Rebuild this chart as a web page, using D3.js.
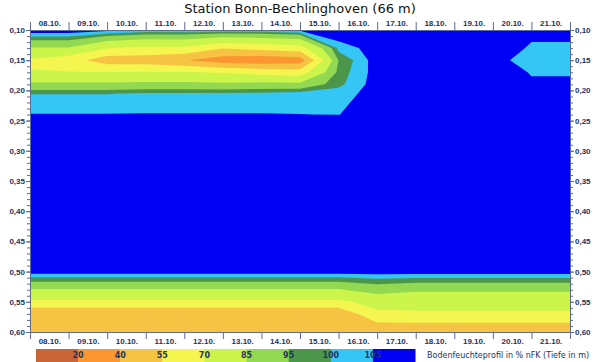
<!DOCTYPE html>
<html lang="de">
<head>
<meta charset="UTF-8">
<title>Bodenfeuchteprofil</title>
<script src="https://cdn.jsdelivr.net/npm/d3@7"></script>
<style>
    body { margin: 0; background: #fff; }
    svg { display: block; font-family: "DejaVu Sans", sans-serif; }
    .axis text { fill: #25325f; font-weight: bold; font-size: 8px; }
    .axis path, .axis line { stroke: #5d6a94; }
</style>
</head>
<body>
<script>

    // Tage (Beschriftung) und Tiefen der Stuetzstellen in m
    var dayLabels = ["08.10.", "09.10.", "10.10.", "11.10.", "12.10.", "13.10.", "14.10.",
                     "15.10.", "16.10.", "17.10.", "18.10.", "19.10.", "20.10.", "21.10."];
    var depths = [0.10, 0.13, 0.15, 0.17, 0.19, 0.205, 0.24, 0.25,
                  0.50, 0.51, 0.52, 0.53, 0.55, 0.57, 0.60];

    // Profile in % nFK, jeweils 00 Uhr, von oben nach unten
    var p0810 = [109, 84, 68.5, 70.5, 87.5, 99.8, 105.2, 110, 108.3, 99.5, 92.8, 84.1, 67.5, 42.5, 42];
    var p0910 = [109, 84, 62, 70.5, 87.5, 99.8, 105.2, 110, 108.3, 99.5, 92.8, 84.1, 67.5, 42.5, 42];
    var p1010 = [107, 70.5, 47, 70.5, 87.5, 99.8, 105.2, 110, 108.3, 99.5, 92.8, 84.1, 67.5, 42.5, 42];
    var p1110 = [104, 67, 47, 71, 88.5, 100.5, 105.3, 110, 108.3, 99.5, 92.8, 84.1, 67.5, 42.5, 42];
    var p1210 = [104.5, 67, 41, 71, 88.5, 100.5, 105.3, 110, 108.3, 99.5, 92.8, 84.1, 67.5, 42.5, 42];
    var p1310 = [104.5, 56, 32, 68.7, 87.5, 100.5, 105.3, 110, 108.3, 99.5, 92.8, 84.1, 67.5, 42.5, 42];
    var p1410 = [104.5, 60, 29.5, 65, 89, 100.8, 105.3, 110, 108.3, 99.5, 92.8, 84.1, 67.5, 42.5, 42];
    var p1510 = [106.5, 63.6, 32, 62, 88.6, 102, 105.1, 110, 108.3, 99.5, 92.8, 84.1, 67.5, 42.5, 42];
    var p1610 = [110, 102, 95.2, 97, 98.5, 102.5, 104.8, 110, 108.3, 99.5, 92.8, 84.1, 67.5, 42.5, 42];
    var p1710 = [110, 107.7, 108, 107.5, 107.8, 107.5, 110, 110, 108, 101, 95.5, 90.5, 74.8, 67.4, 41];
    var p1810 = [110, 110, 110, 110, 110, 110, 110, 110, 108, 100.5, 94, 87, 74.9, 68.2, 41];
    var p1910 = [110, 110, 110, 110, 110, 110, 110, 110, 108, 100.5, 94, 87, 74.9, 68.2, 41];
    var p2010 = [110, 110, 106.6, 109.4, 110, 110, 110, 110, 108, 100.5, 94, 87, 74.9, 68.2, 41];
    var p2110 = [107, 104, 103, 104.5, 106, 110, 110, 110, 108, 100.5, 94, 87, 74.9, 68.2, 41];
    var p2210 = [107, 104, 103, 104.5, 106, 110, 110, 110, 108, 100.5, 94, 87, 74.9, 68.2, 41];

    // Klassen der Legende
    var thresholds = [20, 40, 55, 70, 85, 95, 100, 105];
    var colors = ["#c96536", "#fc9630", "#f6c343", "#f5f550", "#ccf54b",
                  "#92d850", "#4b964b", "#34c6f4", "#0000f5"];

    var profiles = [p0810, p0910, p1010, p1110, p1210, p1310, p1410, p1510,
                    p1610, p1710, p1810, p1910, p2010, p2110, p2210];

    var width = 600, height = 362;
    var plot = {left: 30, right: 570, top: 30, bottom: 332};

    var x = d3.scaleLinear().domain([0, 14]).range([plot.left, plot.right]);
    var y = d3.scaleLinear().domain([0.10, 0.60]).range([plot.top, plot.bottom]);

    var svg = d3.select("body").append("svg")
        .attr("width", width)
        .attr("height", height);

    svg.append("clipPath").attr("id", "clip")
        .append("rect")
        .attr("x", plot.left).attr("y", plot.top)
        .attr("width", plot.right - plot.left)
        .attr("height", plot.bottom - plot.top);

    // Gitter fuer d3.contours (Zeile = Tiefe, Spalte = Tag)
    var nx = profiles.length, ny = depths.length;
    var values = new Array(nx * ny);
    for (var j = 0; j < ny; j++) {
        for (var i = 0; i < nx; i++) {
            values[j * nx + i] = profiles[i][j];
        }
    }

    var contours = d3.contours().size([nx, ny]).thresholds(thresholds)(values);

    // Gitterkoordinaten -> Tag / Tiefe
    var gx = d3.scaleLinear().domain([0.5, nx - 0.5]).range([0, 14]);
    var gy = d3.scaleLinear().domain(d3.range(ny).map(function(k) { return k + 0.5; })).range(depths);

    var proj = d3.geoTransform({
        point: function(px, py) { this.stream.point(x(gx(px)), y(gy(py))); }
    });
    var path = d3.geoPath(proj);

    var field = svg.append("g").attr("clip-path", "url(#clip)");

    field.append("rect")
        .attr("x", plot.left).attr("y", plot.top)
        .attr("width", plot.right - plot.left)
        .attr("height", plot.bottom - plot.top)
        .attr("fill", colors[0]);

    field.selectAll("path")
        .data(contours)
        .enter().append("path")
        .attr("d", path)
        .attr("fill", function(d, k) { return colors[k + 1]; });

    // Achsen
    var dayTicks = d3.range(0, 15);
    var dayMid = d3.range(0, 14).map(function(k) { return k + 0.5; });
    var fmtDepth = function(d) { return d3.format(".2f")(d).replace(".", ","); };
    var depthMajor = d3.range(0.10, 0.6001, 0.05);
    var depthMinor = d3.range(0.10, 0.6001, 0.01);

    svg.append("g").attr("class", "axis")
        .attr("transform", "translate(0," + plot.top + ")")
        .call(d3.axisTop(x).tickValues(dayTicks).tickSize(8).tickFormat(""));
    svg.append("g").attr("class", "axis")
        .attr("transform", "translate(0," + plot.top + ")")
        .call(d3.axisTop(x).tickValues(dayMid).tickSize(0).tickPadding(4.5)
            .tickFormat(function(d) { return dayLabels[Math.floor(d)]; }))
        .select(".domain").remove();

    svg.append("g").attr("class", "axis")
        .attr("transform", "translate(0," + plot.bottom + ")")
        .call(d3.axisBottom(x).tickValues(dayTicks).tickSize(7).tickFormat(""));
    svg.append("g").attr("class", "axis")
        .attr("transform", "translate(0," + plot.bottom + ")")
        .call(d3.axisBottom(x).tickValues(dayMid).tickSize(0).tickPadding(6)
            .tickFormat(function(d) { return dayLabels[Math.floor(d)]; }))
        .select(".domain").remove();

    svg.append("g").attr("class", "axis")
        .attr("transform", "translate(" + plot.left + ",0)")
        .call(d3.axisLeft(y).tickValues(depthMinor).tickSize(3).tickFormat(""));
    svg.append("g").attr("class", "axis")
        .attr("transform", "translate(" + plot.left + ",0)")
        .call(d3.axisLeft(y).tickValues(depthMajor).tickSize(4).tickPadding(1).tickFormat(fmtDepth));

    svg.append("g").attr("class", "axis")
        .attr("transform", "translate(" + plot.right + ",0)")
        .call(d3.axisRight(y).tickValues(depthMinor).tickSize(3).tickFormat(""));
    svg.append("g").attr("class", "axis")
        .attr("transform", "translate(" + plot.right + ",0)")
        .call(d3.axisRight(y).tickValues(depthMajor).tickSize(4).tickPadding(1).tickFormat(fmtDepth));

    // Titel
    svg.append("text")
        .attr("x", 300).attr("y", 13)
        .attr("text-anchor", "middle")
        .attr("font-size", 13)
        .attr("fill", "#111")
        .text("Station Bonn-Bechlinghoven (66 m)");

    // Legende
    var lx = d3.scaleLinear().domain([0, colors.length]).range([36, 415]);
    var legend = svg.append("g");

    legend.selectAll("rect")
        .data(colors)
        .enter().append("rect")
        .attr("x", function(d, k) { return lx(k); })
        .attr("y", 349)
        .attr("width", lx(1) - lx(0) + 0.5)
        .attr("height", 13)
        .attr("fill", function(d) { return d; });

    legend.selectAll("text.lab")
        .data(thresholds)
        .enter().append("text")
        .attr("class", "lab")
        .attr("x", function(d, k) { return lx(k + 1); })
        .attr("y", 355.5)
        .attr("dy", "0.35em")
        .attr("text-anchor", "middle")
        .attr("font-size", 8)
        .attr("font-weight", "bold")
        .attr("fill", "#25325f")
        .text(function(d) { return d; });

    legend.append("text")
        .attr("x", 427).attr("y", 355.5)
        .attr("dy", "0.35em")
        .attr("font-size", 8)
        .attr("fill", "#25325f")
        .text("Bodenfeuchteprofil in % nFK (Tiefe in m)");

</script>
</body>
</html>
